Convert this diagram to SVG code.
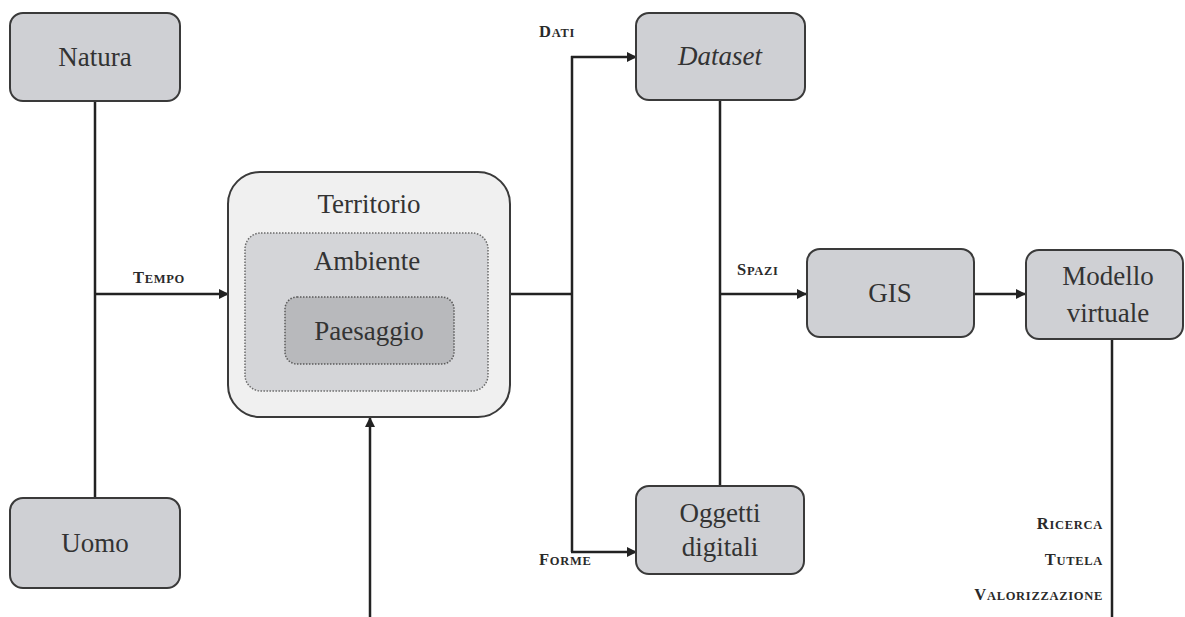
<svg xmlns="http://www.w3.org/2000/svg" width="1185" height="617" viewBox="0 0 1185 617">
<style>
.box{fill:#cfd0d4;stroke:#3a3a3a;stroke-width:2}
.t{font-family:'Liberation Serif',serif;font-size:27px;fill:#333;text-anchor:middle}
.sc{font-family:'Liberation Serif',serif;font-weight:bold;fill:#2a2a2a;font-size:12.5px;letter-spacing:0.7px}
.big{font-size:16.5px}
.c{fill:none;stroke:#222;stroke-width:2.5}
</style>
<defs>
<marker id="ah" viewBox="0 0 10 10" refX="9" refY="5" markerWidth="4" markerHeight="4" orient="auto" markerUnits="strokeWidth">
<path d="M0,0 L10,5 L0,10 z" fill="#222"/>
</marker>
</defs>
<rect width="1185" height="617" fill="#fff"/>
<g id="connectors">
<line class="c" x1="95" y1="101" x2="95" y2="498"/>
<line class="c" x1="95" y1="294" x2="228" y2="294" marker-end="url(#ah)"/>
<line class="c" x1="370" y1="617" x2="370" y2="418" marker-end="url(#ah)"/>
<line class="c" x1="510" y1="294" x2="572" y2="294"/>
<line class="c" x1="572" y1="56" x2="572" y2="552"/>
<line class="c" x1="571" y1="57" x2="636" y2="57" marker-end="url(#ah)"/>
<line class="c" x1="571" y1="552" x2="636" y2="552" marker-end="url(#ah)"/>
<line class="c" x1="720" y1="100" x2="720" y2="486"/>
<line class="c" x1="720" y1="294" x2="806" y2="294" marker-end="url(#ah)"/>
<line class="c" x1="974" y1="294" x2="1025" y2="294" marker-end="url(#ah)"/>
<line class="c" x1="1112" y1="339" x2="1112" y2="617"/>
</g>
<g id="natura"><rect class="box" x="10" y="13" width="170" height="88" rx="13"/><text class="t" x="95" y="66" font-family="Liberation Serif, serif">Natura</text></g>
<g id="uomo"><rect class="box" x="10" y="498" width="170" height="90" rx="13"/><text class="t" x="95" y="552" font-family="Liberation Serif, serif">Uomo</text></g>
<g id="territorio">
<rect x="228" y="172" width="282" height="245" rx="32" fill="#f0f0f0" stroke="#3a3a3a" stroke-width="2"/>
<text class="t" x="369" y="213">Territorio</text>
<g id="ambiente">
<rect x="245" y="233" width="243" height="158" rx="16" fill="#d4d5d8" stroke="#6a6a6a" stroke-width="1.5" stroke-dasharray="1.5,1.5"/>
<text class="t" x="367" y="270">Ambiente</text>
</g>
<g id="paesaggio">
<rect x="285" y="297" width="169" height="67" rx="12" fill="#b8b9bc" stroke="#5a5a5a" stroke-width="1.5" stroke-dasharray="1.5,1.5"/>
<text class="t" x="369" y="340">Paesaggio</text>
</g>
</g>
<g id="dataset"><rect class="box" x="636" y="13" width="169" height="87" rx="13"/><text class="t" x="720" y="65" font-style="italic">Dataset</text></g>
<g id="oggetti"><rect class="box" x="636" y="486" width="168" height="88" rx="13"/><text class="t" x="720" y="522">Oggetti</text><text class="t" x="720" y="556">digitali</text></g>
<g id="gis"><rect class="box" x="807" y="249" width="167" height="88" rx="13"/><text class="t" x="890" y="302">GIS</text></g>
<g id="modello"><rect class="box" x="1026" y="250" width="157" height="89" rx="13"/><text class="t" x="1108" y="285">Modello</text><text class="t" x="1108" y="322">virtuale</text></g>
<g id="labels">
<text class="sc" x="133" y="283"><tspan class="big">T</tspan>EMPO</text>
<text class="sc" x="539" y="37"><tspan class="big">D</tspan>ATI</text>
<text class="sc" x="539" y="565"><tspan class="big">F</tspan>ORME</text>
<text class="sc" x="737" y="275"><tspan class="big">S</tspan>PAZI</text>
<text class="sc" x="1103" y="529" text-anchor="end"><tspan class="big">R</tspan>ICERCA</text>
<text class="sc" x="1103" y="565" text-anchor="end"><tspan class="big">T</tspan>UTELA</text>
<text class="sc" x="1103" y="600" text-anchor="end"><tspan class="big">V</tspan>ALORIZZAZIONE</text>
</g>
</svg>
